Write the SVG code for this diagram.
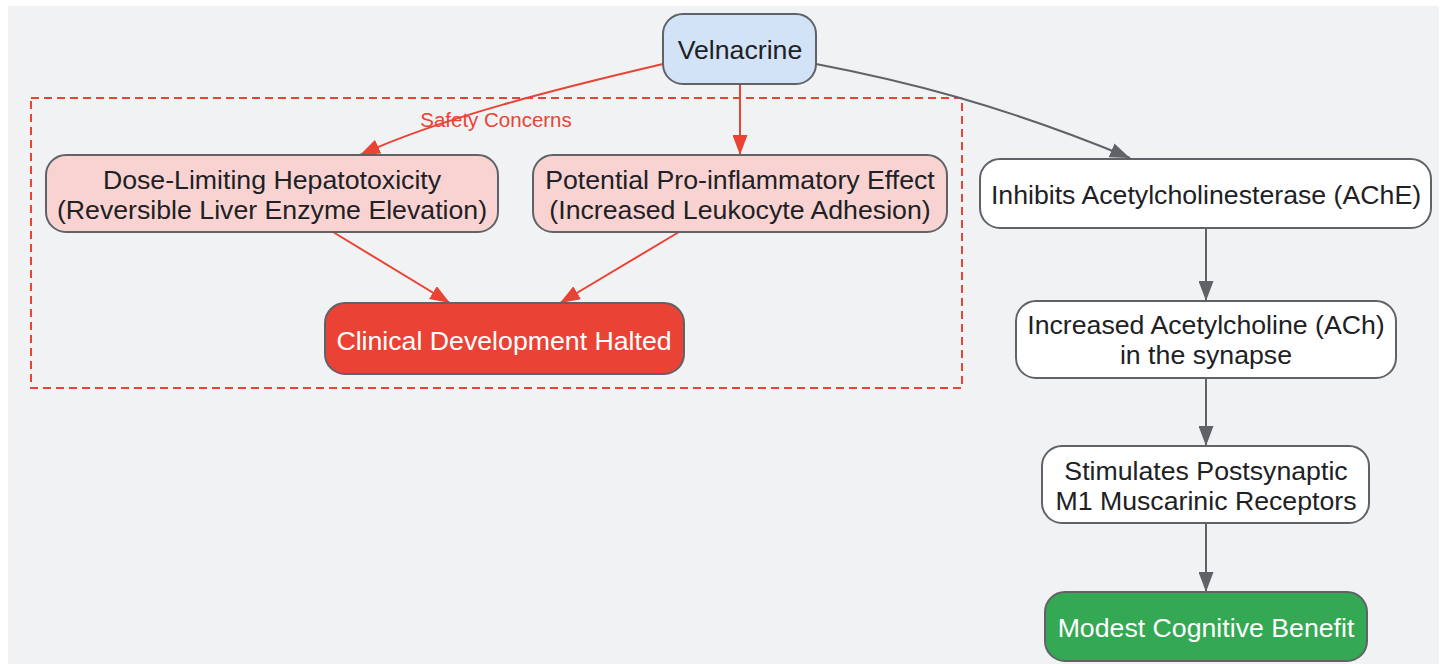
<svg xmlns="http://www.w3.org/2000/svg" width="1447" height="664" viewBox="0 0 1447 664">
<defs>
<style>
.n{stroke:#5f6368;stroke-width:2}
.t{font-family:"Liberation Sans",Arial,sans-serif;font-size:26.7px;fill:#202124;text-anchor:middle}
.w{fill:#ffffff}
.er{fill:none;stroke:#ea4335;stroke-width:2}
.eg{fill:none;stroke:#5f6368;stroke-width:2}
</style>
<marker id="ar" viewBox="0 0 20 15" refX="20" refY="7.5" markerWidth="20" markerHeight="15" markerUnits="userSpaceOnUse" orient="auto"><path d="M0,0 L20,7.5 L0,15 z" fill="#ea4335"/></marker>
<marker id="ag" viewBox="0 0 20 15" refX="20" refY="7.5" markerWidth="20" markerHeight="15" markerUnits="userSpaceOnUse" orient="auto"><path d="M0,0 L20,7.5 L0,15 z" fill="#5f6368"/></marker>
</defs>
<rect x="0" y="0" width="1447" height="664" fill="#ffffff"/>
<rect x="8" y="6" width="1431" height="660" fill="#f1f2f4"/>
<g id="cluster-safety">
<rect x="31" y="98" width="931" height="290" fill="none" stroke="#ea4335" stroke-width="2" stroke-dasharray="8,5"/>
<text x="496" y="127" style="font-family:'Liberation Sans',Arial,sans-serif;font-size:20.5px;fill:#ea4335;text-anchor:middle">Safety Concerns</text>
</g>
<g id="connectors">
<path class="er" d="M663,64 C560,88 440,118 360,155" marker-end="url(#ar)"/>
<path class="er" d="M740,84 L740,155" marker-end="url(#ar)"/>
<path class="eg" d="M816,64 C900,80 1000,104 1130,158" marker-end="url(#ag)"/>
<path class="er" d="M333,232 L450,303" marker-end="url(#ar)"/>
<path class="er" d="M679,232 L560,303" marker-end="url(#ar)"/>
<path class="eg" d="M1206,228 L1206,301" marker-end="url(#ag)"/>
<path class="eg" d="M1206,378 L1206,446" marker-end="url(#ag)"/>
<path class="eg" d="M1206,523 L1206,592" marker-end="url(#ag)"/>
</g>
<g id="velnacrine">
<rect class="n" x="663" y="14" width="153" height="70" rx="20" fill="#d3e3f7"/>
<text class="t" x="740" y="59">Velnacrine</text>
</g>
<g id="hepatotoxicity">
<rect class="n" x="46" y="155" width="452" height="77" rx="20" fill="#f9d3d1"/>
<text class="t" x="272" y="189">Dose-Limiting Hepatotoxicity</text>
<text class="t" x="272" y="219">(Reversible Liver Enzyme Elevation)</text>
</g>
<g id="proinflammatory">
<rect class="n" x="533" y="155" width="414" height="77" rx="20" fill="#f9d3d1"/>
<text class="t" x="740" y="189">Potential Pro-inflammatory Effect</text>
<text class="t" x="740" y="219">(Increased Leukocyte Adhesion)</text>
</g>
<g id="halted">
<rect class="n" x="325" y="303" width="359" height="71" rx="20" fill="#ea4335"/>
<text class="t" x="504" y="350" style="fill:#ffffff">Clinical Development Halted</text>
</g>
<g id="ache">
<rect class="n w" x="980" y="159" width="451" height="69" rx="20"/>
<text class="t" x="1206" y="204">Inhibits Acetylcholinesterase (AChE)</text>
</g>
<g id="ach">
<rect class="n w" x="1016" y="301" width="380" height="77" rx="20"/>
<text class="t" x="1206" y="334">Increased Acetylcholine (ACh)</text>
<text class="t" x="1206" y="364">in the synapse</text>
</g>
<g id="m1">
<rect class="n w" x="1042" y="446" width="327" height="77" rx="20"/>
<text class="t" x="1206" y="480">Stimulates Postsynaptic</text>
<text class="t" x="1206" y="510">M1 Muscarinic Receptors</text>
</g>
<g id="benefit">
<rect class="n" x="1045" y="592" width="322" height="69" rx="20" fill="#34a853"/>
<text class="t" x="1206" y="637" style="fill:#ffffff">Modest Cognitive Benefit</text>
</g>
</svg>
